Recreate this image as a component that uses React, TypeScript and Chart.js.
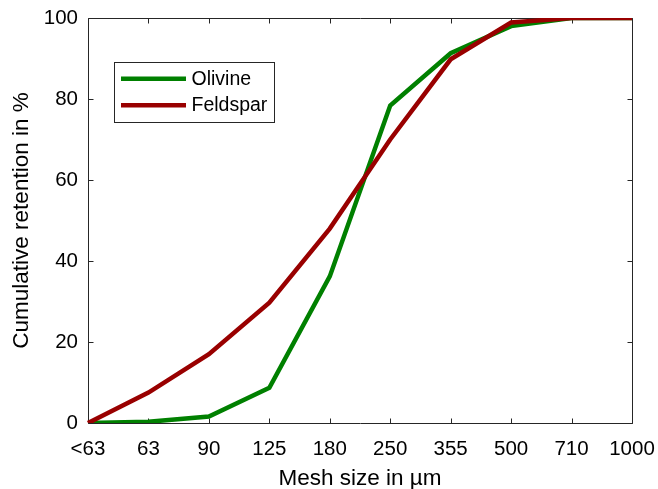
import React, { useEffect, useRef } from "react";
import { Chart, registerables } from "chart.js";

Chart.register(...registerables);

const meshSizes = ["<63", "63", "90", "125", "180", "250", "355", "500", "710", "1000"];
const olivine = [0, 0.3, 1.6, 8.7, 36.2, 78.4, 91.3, 98.0, 100, 100];
const feldspar = [0, 7.5, 17, 29.7, 48, 70, 89.8, 98.9, 100, 100];
const yTicks = [0, 20, 40, 60, 80, 100];

const FONT = "'Liberation Sans', Arial, Helvetica, sans-serif";
const AXIS_COLOR = "#262626";
const GREEN = "#008000";
const RED = "#990000";

const framePlugin = {
  id: "frame",
  beforeDatasetsDraw(chart: any) {
    const { ctx, chartArea } = chart;
    const { left, right, top, bottom } = chartArea;
    const xs = chart.scales.x;
    const ys = chart.scales.y;
    const tl = 5;
    ctx.save();
    ctx.strokeStyle = AXIS_COLOR;
    ctx.lineWidth = 1;
    ctx.beginPath();
    ctx.rect(left + 0.5, top + 0.5, right - left, bottom - top);
    ctx.stroke();
    ctx.beginPath();
    xs.ticks.forEach((_t: any, i: number) => {
      const x = Math.round(xs.getPixelForTick(i)) + 0.5;
      ctx.moveTo(x, bottom + 0.5);
      ctx.lineTo(x, bottom + 0.5 - tl);
      ctx.moveTo(x, top + 0.5);
      ctx.lineTo(x, top + 0.5 + tl);
    });
    ys.ticks.forEach((_t: any, i: number) => {
      const y = Math.round(ys.getPixelForTick(i)) + 0.5;
      ctx.moveTo(left + 0.5, y);
      ctx.lineTo(left + 0.5 + tl, y);
      ctx.moveTo(right + 0.5, y);
      ctx.lineTo(right + 0.5 - tl, y);
    });
    ctx.stroke();
    ctx.restore();
  },
};

const legendPlugin = {
  id: "boxLegend",
  afterDraw(chart: any) {
    const { ctx } = chart;
    const bx = 114.5, by = 62.5, bw = 160, bh = 60;
    ctx.save();
    ctx.fillStyle = "#ffffff";
    ctx.fillRect(bx, by, bw, bh);
    ctx.strokeStyle = AXIS_COLOR;
    ctx.lineWidth = 1;
    ctx.strokeRect(bx, by, bw, bh);
    const rows = [78.7, 105.3];
    chart.data.datasets.forEach((ds: any, i: number) => {
      const y = rows[i];
      ctx.strokeStyle = ds.borderColor;
      ctx.lineWidth = ds.borderWidth;
      ctx.beginPath();
      ctx.moveTo(121, y);
      ctx.lineTo(186, y);
      ctx.stroke();
      ctx.fillStyle = "#000000";
      ctx.font = `19.5px ${FONT}`;
      ctx.textBaseline = "middle";
      ctx.textAlign = "left";
      ctx.fillText(ds.label, 191.5, y + 0.5);
    });
    ctx.restore();
  },
};

export default function App() {
  const ref = useRef<HTMLCanvasElement>(null);
  useEffect(() => {
    if (!ref.current) return;
    const chart = new Chart(ref.current, {
      type: "line",
      data: {
        labels: meshSizes,
        datasets: [
          {
            label: "Olivine",
            data: olivine,
            borderColor: GREEN,
            backgroundColor: GREEN,
            borderWidth: 4.5,
            pointRadius: 0,
            tension: 0,
            order: 1,
          },
          {
            label: "Feldspar",
            data: feldspar,
            borderColor: RED,
            backgroundColor: RED,
            borderWidth: 4.5,
            pointRadius: 0,
            tension: 0,
            order: 0,
          },
        ],
      },
      options: {
        animation: false,
        responsive: false,
        maintainAspectRatio: false,
        layout: { padding: { left: 0, top: 18, right: 26, bottom: 0 } },
        plugins: { legend: { display: false }, tooltip: { enabled: false } },
        scales: {
          x: {
            type: "category",
            offset: false,
            grid: { display: false, drawTicks: false },
            border: { display: false },
            ticks: {
              color: "#000",
              font: { family: FONT, size: 20.5 },
              padding: 14,
              autoSkip: false,
              maxRotation: 0,
            },
            title: {
              display: true,
              text: "Mesh size in µm",
              color: "#000",
              font: { family: FONT, size: 22.5 },
              padding: { top: 0, bottom: -3 },
            },
            afterFit(scale: any) {
              scale.height = 66;
              scale.paddingLeft = 0;
              scale.paddingRight = 0;
            },
          },
          y: {
            type: "linear",
            min: 0,
            max: 100,
            afterBuildTicks(scale: any) {
              scale.ticks = yTicks.map((v) => ({ value: v }));
            },
            grid: { display: false, drawTicks: false },
            border: { display: false },
            ticks: {
              color: "#000",
              font: { family: FONT, size: 20.5 },
              padding: 10,
            },
            title: {
              display: true,
              text: "Cumulative retention in %",
              color: "#000",
              font: { family: FONT, size: 22.5 },
              padding: { top: 8, bottom: 0 },
            },
            afterFit(scale: any) {
              scale.width = 88;
              scale.paddingTop = 0;
              scale.paddingBottom = 0;
            },
          },
        },
      },
      plugins: [framePlugin, legendPlugin],
    } as any);
    return () => chart.destroy();
  }, []);
  return (
    <div style={{ position: "fixed", left: 0, top: 0, width: 658, height: 489, background: "#fff" }}>
      <canvas ref={ref} width={658} height={489} style={{ display: "block" }} />
    </div>
  );
}
